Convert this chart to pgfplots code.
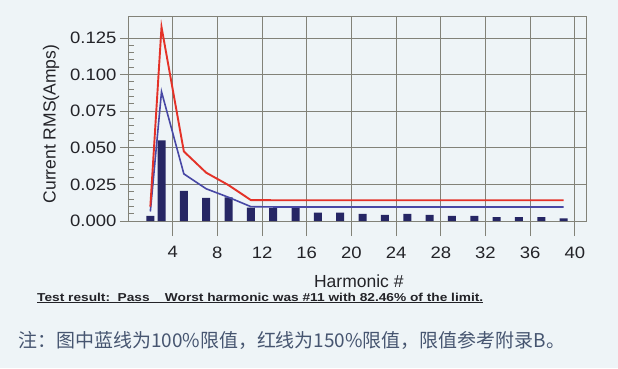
\documentclass[border=0pt]{standalone}
\usepackage{fontspec}
\setmainfont{Liberation Sans}
\newfontfamily\cjk{Noto Sans CJK SC}
\newfontfamily\tickfont[FakeStretch=1.12]{Liberation Sans}
\usepackage{graphicx}
\usepackage{pgfplots}
\pgfplotsset{compat=1.18}
\definecolor{bg}{RGB}{238,244,247}
\definecolor{plotbg}{RGB}{246,249,251}
\definecolor{gridgray}{RGB}{130,130,120}
\definecolor{barnavy}{RGB}{38,38,100}
\definecolor{limblue}{RGB}{72,72,165}
\definecolor{limred}{RGB}{228,50,40}
\definecolor{txt}{RGB}{35,35,40}
\definecolor{notetxt}{RGB}{70,85,112}
\begin{document}
\begin{tikzpicture}
\path[use as bounding box, fill=bg] (0,0) rectangle (618pt,-368pt);
\begin{axis}[
  at={(128pt,-221pt)}, anchor=south west,
  scale only axis, width=458pt, height=205pt,
  xmin=0, xmax=41, ymin=0, ymax=0.14,
  clip=false,
  xtick={4,8,12,16,20,24,28,32,36,40},
  ytick={0,0.025,0.05,0.075,0.1,0.125},
  minor y tick num=4,
  tick pos=left, tick align=outside,
  major tick length=8pt, minor tick length=6pt,
  major x tick style={/pgfplots/major tick length=15pt},
  minor y tick style={xshift=6pt},
  axis line style={draw=gridgray, line width=0.9pt},
  tick style={draw=gridgray, line width=0.9pt},
  scaled y ticks=false,
  yticklabel style={/pgf/number format/.cd, fixed, fixed zerofill, precision=3},
  /pgf/number format/assume math mode=true,
  ticklabel style={font=\tickfont\fontsize{16.5}{20}\selectfont, text=txt},
  xticklabel style={yshift=-14pt},
  xlabel={Harmonic \#},
  ylabel={Current RMS(Amps)},
  label style={font=\fontsize{17.5}{20}\selectfont, text=txt},
  xlabel style={at={(axis description cs:0.504,-0.322)}, anchor=base},
  ylabel style={at={(axis description cs:-0.168,0.473)}, anchor=center},
]
% grid lines and frame, drawn as plots so that they sit behind the data
\pgfplotsinvokeforeach{4,8,12,16,20,24,28,32,36,40}{
  \addplot[gridgray, line width=0.9pt, forget plot] coordinates {(#1,0) (#1,0.14)};
}
\pgfplotsinvokeforeach{0.025,0.05,0.075,0.1,0.125}{
  \addplot[gridgray, line width=0.9pt, forget plot] coordinates {(0,#1) (41,#1)};
}
\addplot[gridgray, line width=0.9pt, forget plot] coordinates {(0,0.14) (41,0.14) (41,0)};
% measured harmonic currents
\addplot[ybar, bar width=8pt, fill=barnavy, draw=none] coordinates {
 (2,0.0035) (3,0.055) (5,0.0205) (7,0.0158) (9,0.0162) (11,0.0092)
 (13,0.009) (15,0.009) (17,0.0058) (19,0.0058) (21,0.0048) (23,0.0042)
 (25,0.0048) (27,0.0042) (29,0.0035) (31,0.0035) (33,0.0027) (35,0.0027)
 (37,0.0027) (39,0.0018)
};
% 100% limit
\addplot[limblue, line width=1.6pt] coordinates {
 (2,0.0065) (3,0.0883) (5,0.0322) (7,0.022) (9,0.0162) (11,0.0098)
 (13,0.0096) (39,0.0096)
};
% 150% limit
\addplot[limred, line width=1.9pt] coordinates {
 (2,0.0098) (3,0.1325) (5,0.0475) (7,0.033) (9,0.0245) (11,0.0143)
 (13,0.0142) (39,0.0142)
};
\end{axis}
\node[anchor=base west, inner sep=0pt, text=txt] at (37pt,-301pt)
 {\resizebox{446pt}{\height}{\bfseries\fontsize{11.5}{13}\selectfont\underline{Test result:\ \ Pass\ \ \ \ Worst harmonic was \#11 with 82.46\% of the limit.}}};
\node[anchor=base west, inner sep=0pt, text=notetxt] at (18pt,-347pt)
 {\resizebox{547pt}{\height}{\cjk\fontsize{19}{22}\selectfont 注：图中蓝线为100\%限值，红线为150\%限值，限值参考附录B。}};
\end{tikzpicture}
\end{document}
